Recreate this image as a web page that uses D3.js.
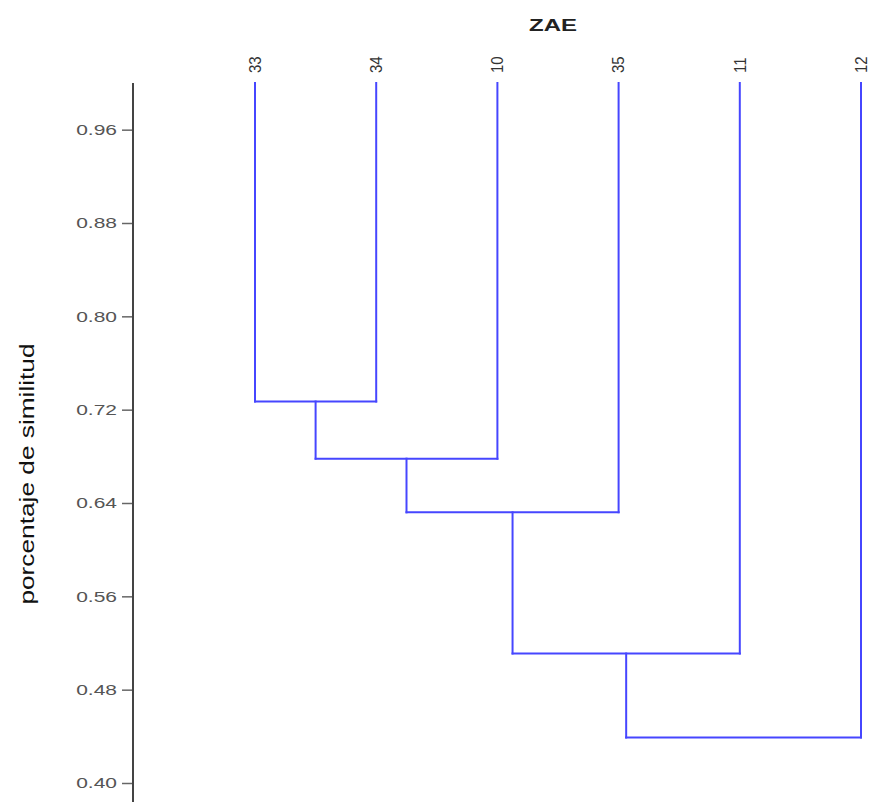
<!DOCTYPE html>
<html>
<head>
<meta charset="utf-8">
<script src="https://cdn.jsdelivr.net/npm/d3@7"></script>
<style>
  body { margin: 0; background: #fff; }
  svg { display: block; font-family: "Liberation Sans", Arial, sans-serif; }
</style>
</head>
<body>
<div id="chart"></div>
<script>
// leaves in dendrogram order
var leaves = ['33', '34', '10', '35', '11', '12'];
// merges: left/right are leaf names or merge index "m0".."m4"
var mergeLeft  = ['33', 'm0', 'm1', 'm2', 'm3'];
var mergeRight = ['34', '10', '35', '11', '12'];
var mergeLevel = [0.727, 0.678, 0.632, 0.511, 0.439];
var yTicks = [0.40, 0.48, 0.56, 0.64, 0.72, 0.80, 0.88, 0.96];
var leafTop = 1.0;

var width = 871, height = 802;

var svg = d3.select('#chart').append('svg')
  .attr('width', width)
  .attr('height', height);

var xScale = d3.scalePoint().domain(leaves).range([255, 861]);
var yScale = d3.scaleLinear().domain([0.40, 1.0]).range([783, 83]);

// y axis
var yAxis = d3.axisLeft(yScale)
  .tickValues(yTicks)
  .tickFormat(d3.format('.2f'))
  .tickSize(11)
  .tickPadding(5);

var yAxisG = svg.append('g')
  .attr('id', 'yAxisG')
  .attr('transform', 'translate(133,0)')
  .call(yAxis);

yAxisG.select('.domain').remove();
yAxisG.append('line')
  .attr('x1', 0).attr('x2', 0)
  .attr('y1', yScale(1.0)).attr('y2', height)
  .attr('stroke', '#444')
  .attr('stroke-width', 2);
yAxisG.selectAll('.tick line').attr('stroke', '#666').attr('stroke-width', 1.5);
// the reference text is stretched sideways
yAxisG.selectAll('.tick text')
  .attr('x', null)
  .attr('transform', 'translate(-16,0) scale(1.4,1)')
  .attr('fill', '#555')
  .style('font-size', '15px');

// node positions
var nodes = {};
leaves.forEach(function(l) {
  nodes[l] = { x: xScale(l), h: leafTop };
});

var segs = [];
mergeLevel.forEach(function(h, i) {
  var a = nodes[mergeLeft[i]], b = nodes[mergeRight[i]];
  segs.push([[a.x, a.h], [a.x, h]]);
  segs.push([[b.x, b.h], [b.x, h]]);
  segs.push([[a.x, h], [b.x, h]]);
  nodes['m' + i] = { x: (a.x + b.x) / 2, h: h };
});

var lineGen = d3.line()
  .x(function(d) { return d[0]; })
  .y(function(d) { return yScale(d[1]); });

svg.append('g').selectAll('path')
  .data(segs)
  .enter()
  .append('path')
  .attr('d', function(d) { return lineGen(d); })
  .attr('fill', 'none')
  .attr('stroke', '#4646ff')
  .attr('stroke-width', 2)
  .attr('stroke-linecap', 'square');

// leaf labels
svg.append('g').selectAll('text')
  .data(leaves)
  .enter()
  .append('text')
  .attr('transform', function(d) { return 'translate(' + xScale(d) + ',73) rotate(-90) scale(1,1.1)'; })
  .attr('dy', '0.35em')
  .attr('text-anchor', 'start')
  .attr('fill', '#333')
  .style('font-size', '15px')
  .text(function(d) { return d; });

// title
svg.append('text')
  .attr('transform', 'translate(553,31) scale(1.5,1)')
  .attr('text-anchor', 'middle')
  .attr('fill', '#222')
  .style('font-size', '16px')
  .style('font-weight', 'bold')
  .text('ZAE');

// y label
svg.append('text')
  .attr('transform', 'translate(27,474) rotate(-90) scale(1.25,1)')
  .attr('text-anchor', 'middle')
  .attr('dy', '0.35em')
  .attr('fill', '#111')
  .style('font-size', '21px')
  .text('porcentaje de similitud');
</script>
</body>
</html>
